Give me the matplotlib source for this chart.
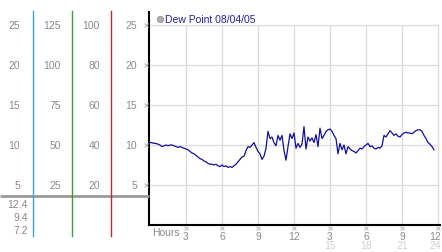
"""Dew point chart, 08/04/05 - recreated with matplotlib."""
import numpy as np
import matplotlib
matplotlib.use("Agg")
import matplotlib.pyplot as plt

W, H = 442, 253

# dew point readings, one every 10 minutes from midnight
dew_point = [
    10.3, 10.3, 10.2, 10.2, 10.1, 10.0,
    9.8, 9.9, 10.0, 9.9, 10.0, 10.0,
    9.9, 9.8, 9.7, 9.8, 9.7, 9.6,
    9.5, 9.4, 9.2, 9.0, 8.9, 8.7,
    8.5, 8.3, 8.2, 8.0, 7.9, 7.7,
    7.6, 7.6, 7.5, 7.6, 7.4, 7.3,
    7.5, 7.3, 7.4, 7.2, 7.3, 7.2,
    7.4, 7.6, 7.9, 8.2, 8.5, 8.6,
    9.3, 9.8, 9.7, 10.0, 10.3, 9.7,
    9.2, 8.9, 8.2, 8.6, 9.6, 11.7,
    10.8, 11.0, 10.3, 9.9, 11.2, 10.6,
    11.2, 9.3, 8.1, 9.8, 11.4, 10.8,
    11.5, 9.6, 10.2, 9.7, 10.1, 12.3,
    9.5, 11.0, 10.5, 10.9, 10.3, 11.3,
    9.8, 12.1, 10.8, 11.2, 11.7, 11.9,
    12.0, 11.7, 11.2, 10.8, 8.9, 10.2,
    9.4, 10.0, 8.9, 9.8, 9.5, 9.3,
    9.2, 9.0, 9.3, 9.6, 9.5, 9.8,
    10.0, 10.2, 9.8, 9.9, 9.6, 9.5,
    9.7, 9.6, 9.9, 11.2, 11.0, 11.4,
    11.8, 11.5, 11.2, 11.4, 11.1, 11.0,
    11.3, 11.5, 11.6, 11.5, 11.5, 11.4,
    11.6, 11.8, 11.9, 11.9, 11.7, 11.2,
    10.8, 10.3, 10.1, 9.8, 9.4,
]
hours = np.arange(len(dew_point)) / 6.0

legend_label = "Dew Point 08/04/05"
y_ticks = [5, 10, 15, 20, 25]
scale_2 = [25, 50, 75, 100, 125]
scale_3 = [20, 40, 60, 80, 100]
stats = ["12.4", "9.4", "7.2"]
x_ticks = [3, 6, 9, 12, 15, 18, 21, 24]
x_labels = ["3", "6", "9", "12", "3", "6", "9", "12"]
x_labels_24 = {15: "15", 18: "18", 21: "21", 24: "24"}

FONT = "Liberation Sans"
GRAY_TXT = "#8a8a8a"
GRID = "#dcdcdc"

# pixel geometry of the plot box
X0_PX, PX_PER_H = 150, 12
Y0_PX, PX_PER_U = 226, 8
LEFT_PX, RIGHT_PX, TOP_PX = 149, 440, 13


def ypx(v):
    return Y0_PX - v * PX_PER_U


def xpx(h):
    return X0_PX + h * PX_PER_H


fig = plt.figure(figsize=(W / 100, H / 100), dpi=100)
fig.patch.set_facecolor("white")

# main data axes
ax = fig.add_axes([LEFT_PX / W, (H - Y0_PX) / H,
                   (RIGHT_PX - LEFT_PX) / W, (Y0_PX - TOP_PX) / H])
ax.set_xlim((LEFT_PX - X0_PX) / PX_PER_H, (RIGHT_PX - X0_PX) / PX_PER_H)
ax.set_ylim(0, (Y0_PX - TOP_PX) / PX_PER_U)
ax.set_xticks([])
ax.set_yticks([])
for s in ("top", "right"):
    ax.spines[s].set_visible(False)
for s in ("left", "bottom"):
    ax.spines[s].set_color("black")
    ax.spines[s].set_linewidth(1.5)

ax.hlines(y_ticks, 0, 24, color=GRID, lw=1, zorder=1)
ax.vlines(x_ticks, 0, 25, color=GRID, lw=1, zorder=1)
ax.plot(hours, dew_point, color="#1010a0", lw=0.9, zorder=3)

# overlay in pixel coords for the side scales and labels
ov = fig.add_axes([0, 0, 1, 1], facecolor="none")
ov.set_xlim(0, W)
ov.set_ylim(H, 0)
ov.axis("off")

txt = dict(fontsize=7.5, family=FONT, color=GRAY_TXT, va="center")

# side scales
for i, v in enumerate(y_ticks):
    y = ypx(v)
    ov.text(20, y, str(v), ha="right", **txt)
    ov.text(61, y, str(scale_2[i]), ha="right", **txt)
    ov.text(100, y, str(scale_3[i]), ha="right", **txt)
    ov.text(137, y, str(v), ha="right", **txt)
    ov.plot(145.5, y, marker="x", ms=2.5, mew=0.8, color="#c0c0c0")

for i, s in enumerate(stats):
    ov.text(28, 205 + 13 * i, s, ha="right", **txt)

ov.plot([0, LEFT_PX], [197, 197], color="#9a9a9a", lw=2, solid_capstyle="butt")
ov.plot([33, 33], [12, 237], color="#3aa6cc", lw=1)
ov.plot([72, 72], [12, 237], color="#35a335", lw=1)
ov.plot([111, 111], [12, 237], color="#b03030", lw=1)

# legend
ov.plot(160, 20, marker="o", ms=4.5, mfc="#b0b0b0", mec="#909090", mew=0.6)
ov.text(165, 20, legend_label, ha="left", fontsize=7.5, family=FONT,
        color="#2020b0", va="center")

# hour axis labels
ov.text(152, 233, "Hours", ha="left", **txt)
for h, lab in zip(x_ticks, x_labels):
    x = xpx(h)
    ov.plot(x, 229, marker="x", ms=2.5, mew=0.8, color="#c0c0c0")
    # keep the last column inside the picture
    if h == 24:
        xt, ha = W - 1, "right"
    else:
        xt, ha = x, "center"
    ov.text(xt, 237, lab, ha=ha, **txt)
    if h in x_labels_24:
        ov.text(xt, 246, x_labels_24[h], ha=ha, fontsize=7.5,
                family=FONT, color="#d0d0d0", va="center")

fig.savefig("out.png", dpi=100, facecolor="white")
